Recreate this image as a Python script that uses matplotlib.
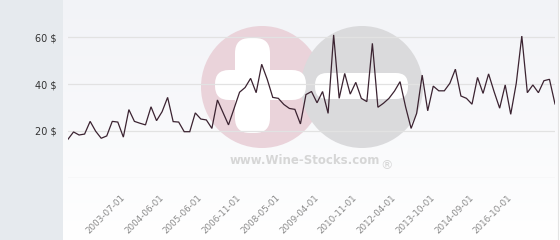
import numpy as np
import matplotlib
matplotlib.use("Agg")
import matplotlib.pyplot as plt
from matplotlib.patches import Rectangle, Circle, FancyBboxPatch

# ---- data ----
prices = [16.5, 19.6, 18.3, 18.7, 24.1, 19.9, 16.9, 17.9, 24.1, 23.8,
          17.4, 29.1, 24.1, 23.3, 22.6, 30.3, 24.4, 28.2, 34.3, 24.0,
          23.8, 19.7, 19.7, 27.7, 25.1, 24.7, 21.1, 33.2, 27.9, 22.6,
          29.5, 36.5, 38.5, 42.4, 36.3, 48.4, 42.0, 34.3, 33.9, 31.3,
          29.6, 29.2, 23.0, 35.5, 36.8, 32.0, 36.8, 27.5, 60.9, 33.9,
          44.5, 35.7, 40.7, 33.9, 32.5, 57.3, 30.1, 31.8, 33.9, 37.0,
          41.0, 30.3, 21.1, 27.5, 43.8, 28.6, 39.1, 37.1, 37.1, 40.3,
          46.3, 34.9, 33.9, 31.4, 42.8, 36.0, 44.3, 36.7, 29.7, 39.6,
          27.1, 40.3, 60.4, 36.3, 39.6, 36.3, 41.4, 42.0, 31.5]
tick_labels = ["2003-07-01", "2004-06-01", "2005-06-01", "2006-11-01",
               "2008-05-01", "2009-04-01", "2010-11-01", "2012-04-01",
               "2013-10-01", "2014-09-01", "2016-10-01"]
tick_step = 7
tick_start = 10
y_ticks = [20, 40, 60]

W, H = 560, 240
fig = plt.figure(figsize=(W / 100, H / 100), dpi=100)
fig.patch.set_facecolor("white")

# background gradient
bg = fig.add_axes([63 / W, 0, (558 - 63) / W, 1], zorder=0)
grad = np.linspace(0, 1, 256).reshape(-1, 1)
from matplotlib.colors import LinearSegmentedColormap
cmap = LinearSegmentedColormap.from_list("g", ["#f2f3f7", "#ffffff"])
bg.imshow(grad, aspect="auto", cmap=cmap, extent=[0, 1, 0, 1], origin="upper")
bg.axis("off")

# left panel
fig.patches.append(Rectangle((0, 0), 63 / W, 1, transform=fig.transFigure,
                             facecolor="#e6eaee", edgecolor="none", zorder=0))
fig.lines.append(plt.Line2D([557.5 / W, 557.5 / W], [0, 1], transform=fig.transFigure,
                            color="#e4e4e4", lw=0.8))

# watermark
wm = fig.add_axes([0, 0, 1, 1], zorder=1)
wm.set_xlim(0, W)
wm.set_ylim(H, 0)
wm.axis("off")
wm.patch.set_alpha(0)
wm.add_patch(Circle((262, 87), 61, facecolor="#ead3da", edgecolor="none"))
wm.add_patch(Circle((362, 87), 61, facecolor="#dadadc", edgecolor="none"))
wm.add_patch(FancyBboxPatch((238, 41), 29, 89, boxstyle="round,pad=3,rounding_size=15",
                            facecolor="white", edgecolor="none"))
wm.add_patch(FancyBboxPatch((218, 73), 85, 24, boxstyle="round,pad=3,rounding_size=14",
                            facecolor="white", edgecolor="none"))
wm.add_patch(FancyBboxPatch((318, 76), 87, 20, boxstyle="round,pad=3,rounding_size=12",
                            facecolor="white", edgecolor="none"))
wm.text(305, 160, "www.Wine-Stocks.com", ha="center", va="center",
        fontsize=8.5, fontweight="bold", color="#d6d6d6")
wm.text(386, 166, "®", ha="center", va="center", fontsize=9, color="#d6d6d6")

# main chart
x0, x1, yb = 68, 555, 178
ax = fig.add_axes([x0 / W, (H - yb) / H, (x1 - x0) / W, yb / H], zorder=2)
ax.patch.set_alpha(0)
x = np.arange(len(prices))
ax.plot(x, prices, color="#3b2331", lw=0.9, solid_joinstyle="miter")
ax.set_xlim(0, len(prices) - 1)
ax.set_ylim(0, yb / 2.35)
for v in [0] + y_ticks:
    ax.axhline(v, color="#e2e2e2", lw=0.9, zorder=0)
ax.set_yticks(y_ticks)
ax.set_yticklabels([f"{v} $" for v in y_ticks], fontsize=7, color="#333333")
ax.tick_params(axis="y", length=0, pad=8)
pos = [tick_start + tick_step * i for i in range(len(tick_labels))]
ax.set_xticks(pos)
ax.set_xticklabels(tick_labels, rotation=45, ha="right", va="center",
                   rotation_mode="anchor", fontsize=6.3, color="#8a8a8a")
ax.tick_params(axis="x", length=0, pad=13)
for s in ax.spines.values():
    s.set_visible(False)

fig.savefig("out.png", dpi=100)
